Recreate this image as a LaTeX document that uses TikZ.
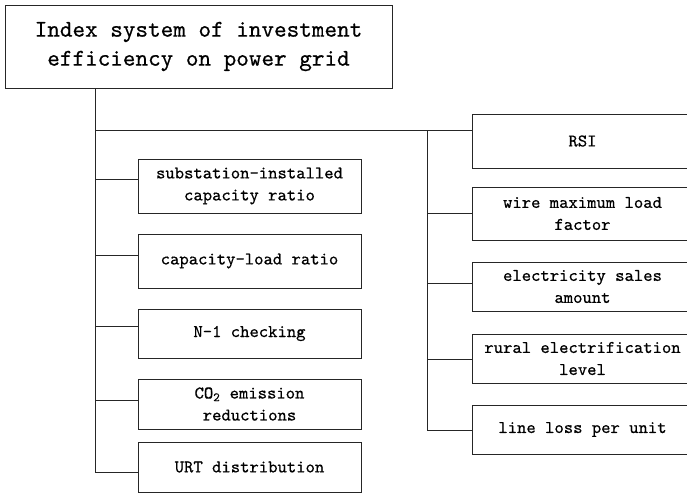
\documentclass[tikz,border=0pt]{standalone}
\usepackage{fontspec}
\newfontfamily\boxfont{lmmono10-regular.otf}[FakeBold=0.6]
\begin{document}
\begin{tikzpicture}[x=1pt,y=-1pt,
  line width=0.9pt, draw=black!85,
  titlebox/.style={draw=black!85, rectangle, inner sep=0pt, align=center,
    minimum width=387pt, minimum height=83pt,
    font=\boxfont\fontsize{24}{29}\selectfont},
  itembox/.style={draw=black!85, rectangle, inner sep=0pt, align=center,
    font=\boxfont\fontsize{17.8}{22}\selectfont},
  leftbox/.style={itembox, minimum width=223pt},
  rightbox/.style={itembox, minimum width=221pt},
  link/.style={draw=black!85, line width=0.9pt}]
\useasboundingbox (0,0) rectangle (687,493);

% title
\node[titlebox] (t) at (198.5,46.5) {Index system of investment\\efficiency on power grid};

% left column
\node[leftbox, minimum height=54pt] (l1) at (249.5,186) {substation-installed\\capacity ratio};
\node[leftbox, minimum height=54pt] (l2) at (249.5,261) {capacity-load ratio};
\node[leftbox, minimum height=49pt] (l3) at (249.5,333.5) {N-1 checking};
\node[leftbox, minimum height=50pt] (l4) at (249.5,404) {CO\textsubscript{2} emission\\reductions};
\node[leftbox, minimum height=50pt] (l5) at (249.5,467) {URT distribution};

% right column
\node[rightbox, minimum height=54pt] (r1) at (582.5,141) {RSI};
\node[rightbox, minimum height=53pt] (r2) at (582.5,213.5) {wire maximum load\\factor};
\node[rightbox, minimum height=49pt] (r3) at (582.5,286.5) {electricity sales\\amount};
\node[rightbox, minimum height=49pt] (r4) at (582.5,358.5) {rural electrification\\level};
\node[rightbox, minimum height=49pt] (r5) at (582.5,429.5) {line loss per unit};

% trunk ends
\coordinate (lt) at (95,472);
\coordinate (rt) at (427,130);
\coordinate (rb) at (427,430);

% left trunk and branches
\draw[link] (t.south -| lt) -- (lt) -- (l5.west |- lt);
\draw[link] ([yshift=11pt]r1.west) -- (lt |- rt);
\draw[link] ([yshift=7pt]l1.west) -- ++(-43,0);
\draw[link] ([yshift=6pt]l2.west) -- ++(-43,0);
\draw[link] ([yshift=7.5pt]l3.west) -- ++(-43,0);
\draw[link] ([yshift=4pt]l4.west) -- ++(-43,0);

% right trunk and branches
\draw[link] (rt) -- (rb) -- (r5.west |- rb);
\draw[link] ([yshift=0.5pt]r2.west) -- ++(-45,0);
\draw[link] ([yshift=3.5pt]r3.west) -- ++(-45,0);
\draw[link] ([yshift=-0.5pt]r4.west) -- ++(-45,0);
\end{tikzpicture}
\end{document}
